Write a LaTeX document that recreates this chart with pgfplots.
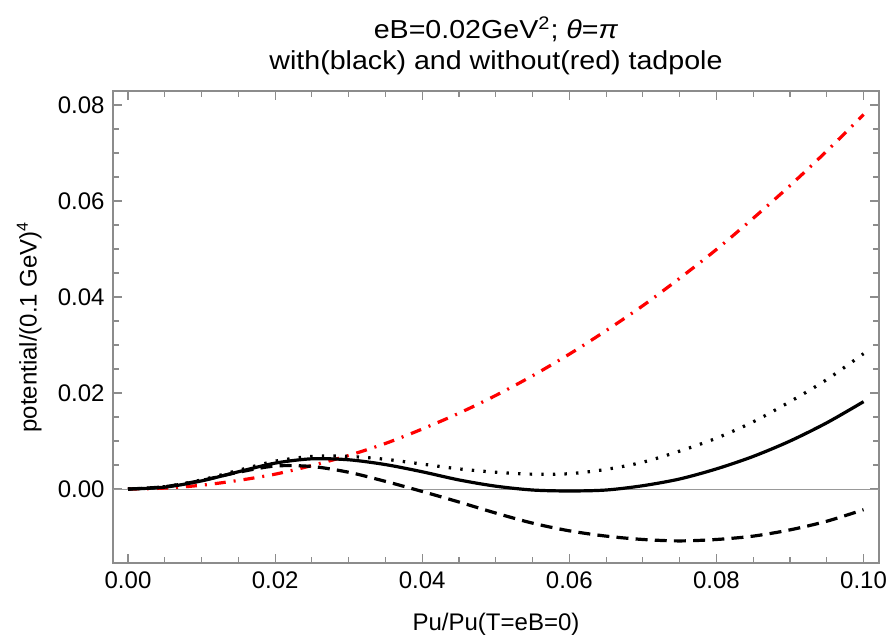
\documentclass[border=0pt]{standalone}
\usepackage{fontspec}
\setmainfont{Liberation Sans}
\newfontfamily\titlefont[FakeStretch=1.1]{Liberation Sans}
\usepackage{pgfplots}
\usepackage{pgfplotstable}
\pgfplotsset{compat=1.18}

% x  red(no tadpole)  solid  dotted  dashed
\pgfplotstableread{
x      red     solid    dotted   dashed
0.000  0.0000  0.0000   0.0000   0.0000
0.005  0.0002  0.0004   0.0005   0.0005
0.010  0.0008  0.0017   0.0019   0.0018
0.015  0.0018  0.0036   0.0039   0.0035
0.020  0.0031  0.0054   0.0058   0.0048
0.025  0.0049  0.0063   0.0068   0.0047
0.030  0.0070  0.0061   0.0068   0.0035
0.035  0.0095  0.0051   0.0062   0.0016
0.040  0.0125  0.0036   0.0052  -0.0005
0.045  0.0158  0.0019   0.0042  -0.0027
0.050  0.0195  0.0006   0.0035  -0.0050
0.055  0.0236 -0.0002   0.0031  -0.0071
0.060  0.0281 -0.0004   0.0032  -0.0087
0.065  0.0330 -0.0002   0.0041  -0.0098
0.070  0.0382  0.0007   0.0056  -0.0105
0.075  0.0439  0.0021   0.0079  -0.0108
0.080  0.0499  0.0042   0.0106  -0.0105
0.085  0.0564  0.0068   0.0140  -0.0098
0.090  0.0632  0.0100   0.0182  -0.0085
0.095  0.0704  0.0138   0.0228  -0.0067
0.100  0.0780  0.0182   0.0282  -0.0043
}\pot

\begin{document}
\fontsize{12}{14}\selectfont
\begin{tikzpicture}
\useasboundingbox (-56.5pt,-38pt) rectangle (388pt,281.5pt);
\begin{axis}[
  at={(0,0)}, anchor=south west,
  scale only axis, width=383pt, height=236pt,
  xmin=-0.00204, xmax=0.1021, ymin=-0.0154, ymax=0.0829,
  xtick={0,0.02,0.04,0.06,0.08,0.1},
  ytick={0,0.02,0.04,0.06,0.08},
  minor x tick num=3, minor y tick num=3,
  tick align=inside, major tick length=4.5pt, minor tick length=2.8pt,
  axis line style={gray!90, line width=0.6pt},
  every tick/.style={gray!90, line width=0.6pt},
  scaled ticks=false,
  ticklabel style={black, font=\fontsize{12}{14}\selectfont},
  /pgf/number format/.cd, fixed, fixed zerofill, precision=2, assume math mode=true,
  /pgfplots/.cd,
  title={eB=0.02GeV\textsuperscript{2}; \textit{θ}=\textit{π}\\with(black) and without(red) tadpole},
  title style={align=center, font=\titlefont\fontsize{13}{15.5}\selectfont, yshift=-2pt},
  xlabel={Pu/Pu(T=eB=0)},
  ylabel={potential/(0.1 GeV)\textsuperscript{4}},
  label style={font=\fontsize{12}{14}\selectfont},
  xlabel style={yshift=-4pt},
]
\addplot[gray!80, line width=0.5pt, forget plot] coordinates {(-0.00204,0) (0.1021,0)};
\addplot[red, line width=1.6pt, smooth, dash pattern=on 5.5pt off 4pt on 1pt off 4pt] table[x=x, y=red] {\pot};
\addplot[black, line width=1.6pt, smooth] table[x=x, y=solid] {\pot};
\addplot[black, line width=1.6pt, smooth, dash pattern=on 1.2pt off 4.6pt] table[x=x, y=dotted] {\pot};
\addplot[black, line width=1.6pt, smooth, dash pattern=on 6pt off 3.6pt] table[x=x, y=dashed] {\pot};
\end{axis}
\end{tikzpicture}
\end{document}
